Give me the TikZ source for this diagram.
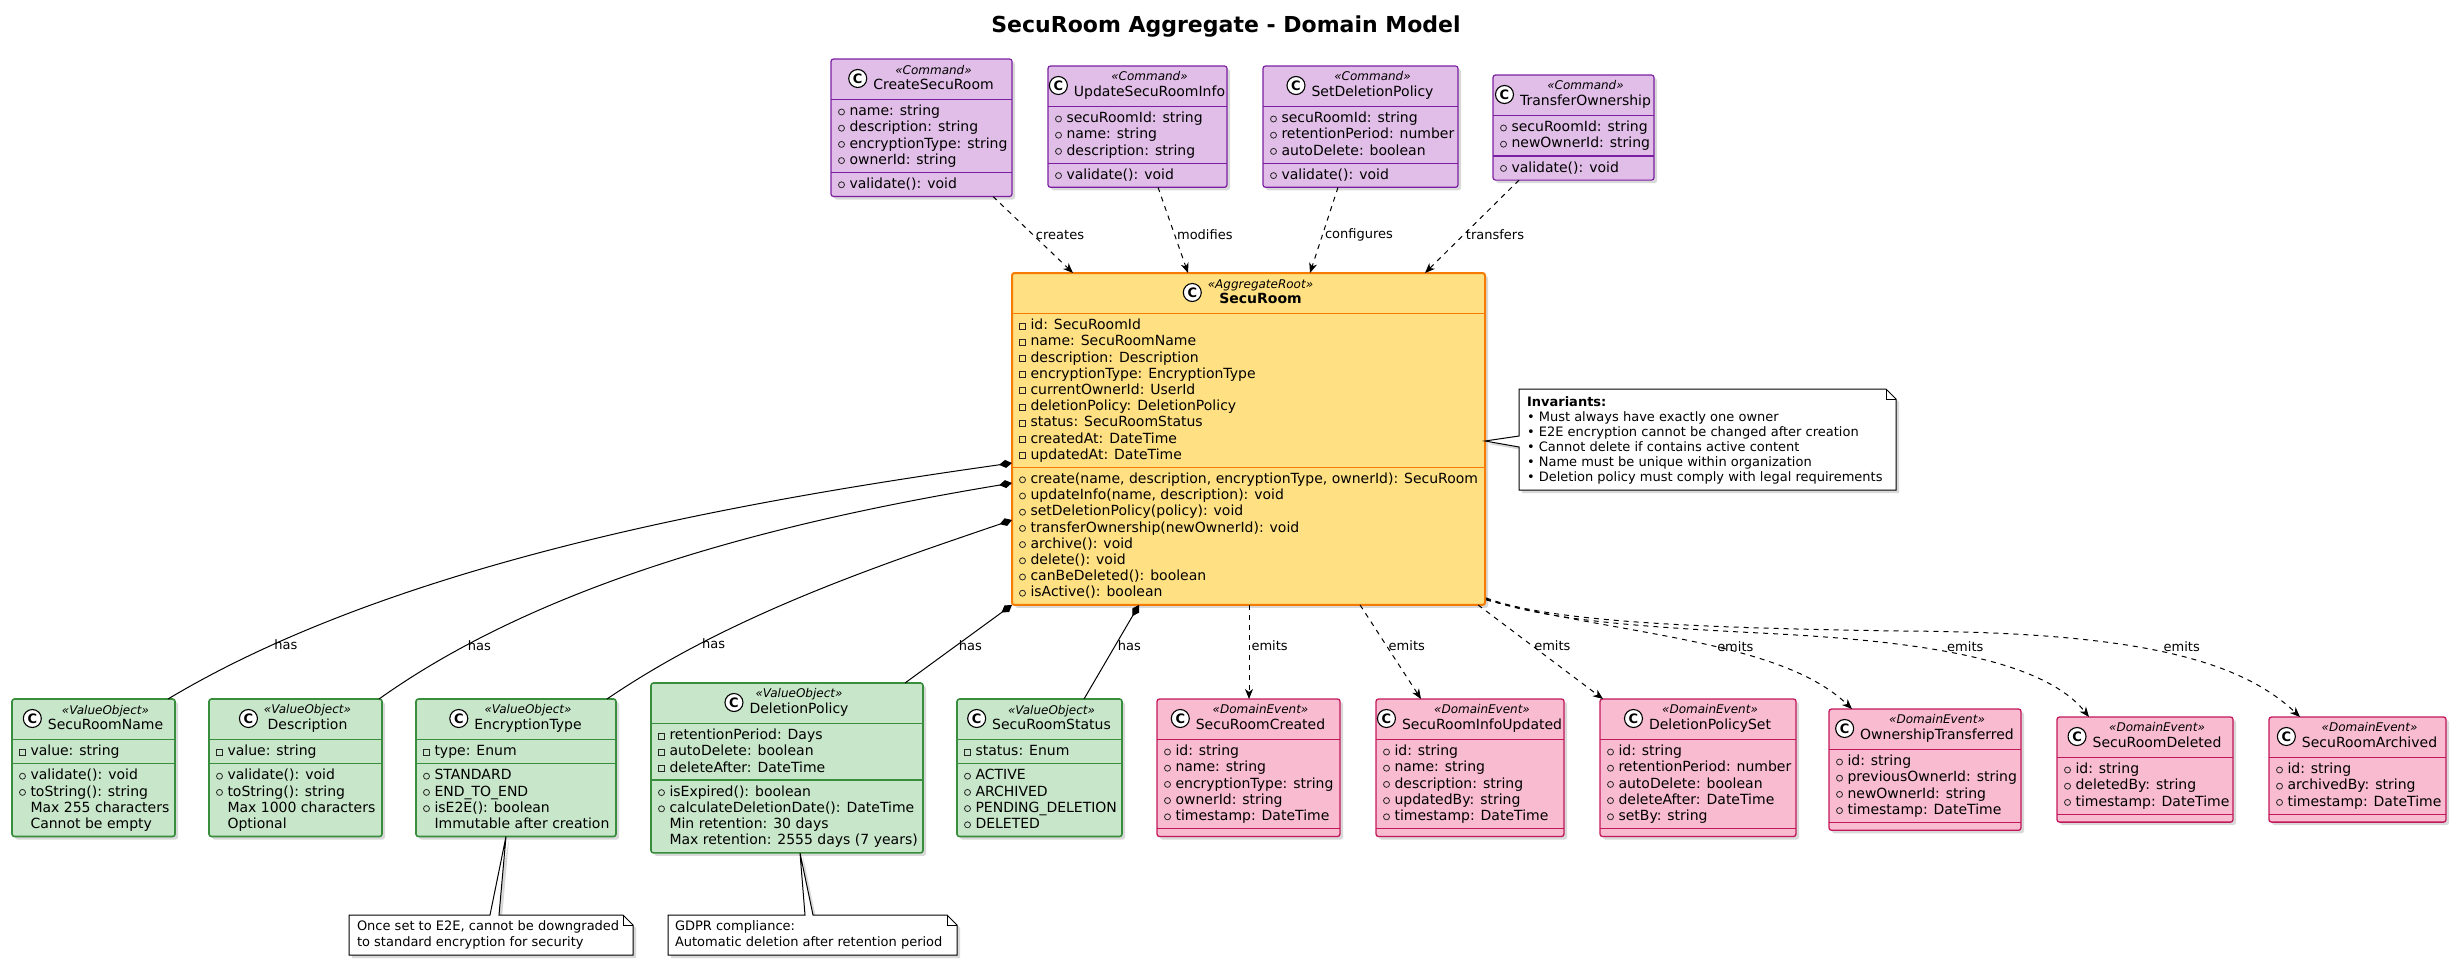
\documentclass[tikz,border=0pt]{standalone}
\usepackage{fontspec}
\setmainfont{DejaVu Sans}
\usetikzlibrary{arrows.meta,calc,positioning,shadows}
\definecolor{cmdFill}{HTML}{E1BEE7}
\definecolor{cmdLine}{HTML}{7B1FA2}
\definecolor{aggFill}{HTML}{FFE082}
\definecolor{aggLine}{HTML}{F57C00}
\definecolor{voFill}{HTML}{C8E6C9}
\definecolor{voLine}{HTML}{388E3C}
\definecolor{evFill}{HTML}{F8BBD0}
\definecolor{evLine}{HTML}{C2185B}
\tikzset{
  boxshadow/.style={drop shadow={shadow xshift=3pt, shadow yshift=-3pt, opacity=0.3}},
  clsbox/.style={rectangle, rounded corners=2.5pt, inner sep=0pt, outer sep=0pt, boxshadow},
  cmd box/.style={clsbox, fill=cmdFill, draw=cmdLine, line width=1.2pt},
  cmd line/.style={draw=cmdLine, line width=1.2pt},
  agg box/.style={clsbox, fill=aggFill, draw=aggLine, line width=2pt},
  agg line/.style={draw=aggLine, line width=1.5pt},
  vo box/.style={clsbox, fill=voFill, draw=voLine, line width=1.6pt},
  vo line/.style={draw=voLine, line width=1.3pt},
  ev box/.style={clsbox, fill=evFill, draw=evLine, line width=1.3pt},
  ev line/.style={draw=evLine, line width=1.2pt},
  hdr/.style={inner sep=0pt, outer sep=0pt, font=\fontsize{14}{15}\selectfont},
  cbadge/.style={circle, draw=black, fill=white, line width=1.1pt, minimum size=18pt, inner sep=0pt, font=\fontsize{13}{13}\selectfont\bfseries},
  mem/.style={inner sep=0pt, outer sep=0pt, anchor=west, font=\fontsize{14}{16}\selectfont, text height=10.5pt, text depth=3pt},
  icon/.style={draw=black!85, line width=0.8pt},
  notefont/.style={inner sep=0pt, outer sep=0pt, anchor=west, font=\fontsize{13}{15}\selectfont, text height=9.75pt, text depth=2.75pt},
  noteshape/.style={draw=black, fill=white, line width=1pt, boxshadow},
  noteline/.style={draw=black, line width=1pt},
  notebox/.style={rectangle, inner sep=0pt, outer sep=0pt, anchor=north west},
  dep/.style={draw=black, line width=1pt, dash pattern=on 5pt off 5pt, -{Stealth[length=10pt,width=8pt,inset=3pt]}},
  comp/.style={draw=black, line width=1pt, {Diamond[length=13pt,width=8pt]}-},
  lbl/.style={font=\fontsize{13}{15}\selectfont, inner sep=2pt, anchor=west},
}
\newcommand\umlclass[9]{%
  \pgfmathsetmacro\clsHd{#4+40.5}%
  \pgfmathsetmacro\clsAd{\clsHd+16.2*#6+8}%
  \pgfmathsetmacro\clsBt{\clsAd+16.2*#7+8}%
  \pgfmathsetlengthmacro\clsW{(#5-#3)*1pt}%
  \pgfmathsetlengthmacro\clsH{(\clsBt-#4)*1pt}%
  \pgfmathsetmacro\clsCx{(#3+#5)/2+12}%
  \node[#2 box, minimum width=\clsW, minimum height=\clsH, anchor=north west] (#1) at (#3,#4) {};
  \draw[#2 line] (#3,\clsHd) -- (#5,\clsHd);
  \draw[#2 line] (#3,\clsAd) -- (#5,\clsAd);
  \node[hdr] (#1-h) at (\clsCx,#4+19.5) {\begin{tabular}{@{}c@{}}{\fontsize{12}{14}\selectfont\itshape «#8»}\\#9\end{tabular}};
  \node[cbadge, left=6pt of #1-h] (#1-c) {C};
}
\newcommand\umlmembers[4]{%
  \foreach \vis/\txt [count=\mi from 0] in {#4} {%
    \pgfmathsetmacro\memY{#3+12.5+16.2*\mi}%
    \if\vis o\draw[icon] (#2+10.5,\memY) circle (3pt);\fi
    \if\vis p\draw[icon] (#2+7.5,\memY-3) rectangle (#2+13.5,\memY+3);\fi
    \node[mem] (#1-\mi) at (#2+18.5,\memY) {\txt};
  }%
}
\begin{document}
\begin{tikzpicture}[x=1pt,y=-1pt]
\useasboundingbox (0,0) rectangle (2456,961);
\node[font=\fontsize{22}{26}\selectfont\bfseries] (title) at (1226,27) {SecuRoom Aggregate - Domain Model};

% ---------- Commands ----------
\umlclass{cmdCreate}{cmd}{831}{59}{1012}{4}{1}{Command}{CreateSecuRoom}
\umlmembers{cmdCreate-a}{831}{\clsHd}{o/name: string, o/description: string, o/encryptionType: string, o/ownerId: string}
\umlmembers{cmdCreate-m}{831}{\clsAd}{o/validate(): void}

\umlclass{cmdUpdate}{cmd}{1048}{66}{1227}{3}{1}{Command}{UpdateSecuRoomInfo}
\umlmembers{cmdUpdate-a}{1048}{\clsHd}{o/secuRoomId: string, o/name: string, o/description: string}
\umlmembers{cmdUpdate-m}{1048}{\clsAd}{o/validate(): void}

\umlclass{cmdPolicy}{cmd}{1263}{66}{1458}{3}{1}{Command}{SetDeletionPolicy}
\umlmembers{cmdPolicy-a}{1263}{\clsHd}{o/secuRoomId: string, o/retentionPeriod: number, o/autoDelete: boolean}
\umlmembers{cmdPolicy-m}{1263}{\clsAd}{o/validate(): void}

\umlclass{cmdTransfer}{cmd}{1493}{75}{1654}{2}{1}{Command}{TransferOwnership}
\umlmembers{cmdTransfer-a}{1493}{\clsHd}{o/secuRoomId: string, o/newOwnerId: string}
\umlmembers{cmdTransfer-m}{1493}{\clsAd}{o/validate(): void}

% ---------- Aggregate root ----------
\umlclass{secuRoom}{agg}{1012}{273}{1485}{9}{8}{AggregateRoot}{{\bfseries SecuRoom}}
\umlmembers{secuRoom-a}{1012}{\clsHd}{p/id: SecuRoomId, p/name: SecuRoomName, p/description: Description, p/encryptionType: EncryptionType, p/currentOwnerId: UserId, p/deletionPolicy: DeletionPolicy, p/status: SecuRoomStatus, p/createdAt: DateTime, p/updatedAt: DateTime}
\umlmembers{secuRoom-m}{1012}{\clsAd}{o/{create(name, description, encryptionType, ownerId): SecuRoom}, o/{updateInfo(name, description): void}, o/setDeletionPolicy(policy): void, o/transferOwnership(newOwnerId): void, o/archive(): void, o/delete(): void, o/canBeDeleted(): boolean, o/isActive(): boolean}

% ---------- Value objects ----------
\umlclass{voName}{vo}{12}{699}{175}{1}{4}{ValueObject}{SecuRoomName}
\umlmembers{voName-a}{12}{\clsHd}{p/value: string}
\umlmembers{voName-m}{12}{\clsAd}{o/validate(): void, o/toString(): string, n/Max 255 characters, n/Cannot be empty}

\umlclass{voDesc}{vo}{209}{699}{382}{1}{4}{ValueObject}{Description}
\umlmembers{voDesc-a}{209}{\clsHd}{p/value: string}
\umlmembers{voDesc-m}{209}{\clsAd}{o/validate(): void, o/toString(): string, n/Max 1000 characters, n/Optional}

\umlclass{voEnc}{vo}{416}{699}{616}{1}{4}{ValueObject}{EncryptionType}
\umlmembers{voEnc-a}{416}{\clsHd}{p/type: Enum}
\umlmembers{voEnc-m}{416}{\clsAd}{o/STANDARD, o/END\_TO\_END, o/isE2E(): boolean, n/Immutable after creation}

\umlclass{voPolicy}{vo}{651}{683}{923}{3}{4}{ValueObject}{DeletionPolicy}
\umlmembers{voPolicy-a}{651}{\clsHd}{p/retentionPeriod: Days, p/autoDelete: boolean, p/deleteAfter: DateTime}
\umlmembers{voPolicy-m}{651}{\clsAd}{o/isExpired(): boolean, o/calculateDeletionDate(): DateTime, n/Min retention: 30 days, n/Max retention: 2555 days (7 years)}

\umlclass{voStatus}{vo}{957}{699}{1122}{1}{4}{ValueObject}{SecuRoomStatus}
\umlmembers{voStatus-a}{957}{\clsHd}{p/status: Enum}
\umlmembers{voStatus-m}{957}{\clsAd}{o/ACTIVE, o/ARCHIVED, o/PENDING\_DELETION, o/DELETED}

% ---------- Domain events ----------
\umlclass{evCreated}{ev}{1157}{699}{1340}{5}{0}{DomainEvent}{SecuRoomCreated}
\umlmembers{evCreated-a}{1157}{\clsHd}{o/id: string, o/name: string, o/encryptionType: string, o/ownerId: string, o/timestamp: DateTime}

\umlclass{evInfo}{ev}{1376}{699}{1564}{5}{0}{DomainEvent}{SecuRoomInfoUpdated}
\umlmembers{evInfo-a}{1376}{\clsHd}{o/id: string, o/name: string, o/description: string, o/updatedBy: string, o/timestamp: DateTime}

\umlclass{evPolicy}{ev}{1600}{699}{1796}{5}{0}{DomainEvent}{DeletionPolicySet}
\umlmembers{evPolicy-a}{1600}{\clsHd}{o/id: string, o/retentionPeriod: number, o/autoDelete: boolean, o/deleteAfter: DateTime, o/setBy: string}

\umlclass{evOwner}{ev}{1829}{709}{2021}{4}{0}{DomainEvent}{OwnershipTransferred}
\umlmembers{evOwner-a}{1829}{\clsHd}{o/id: string, o/previousOwnerId: string, o/newOwnerId: string, o/timestamp: DateTime}

\umlclass{evDeleted}{ev}{2057}{717}{2233}{3}{0}{DomainEvent}{SecuRoomDeleted}
\umlmembers{evDeleted-a}{2057}{\clsHd}{o/id: string, o/deletedBy: string, o/timestamp: DateTime}

\umlclass{evArchived}{ev}{2269}{717}{2446}{3}{0}{DomainEvent}{SecuRoomArchived}
\umlmembers{evArchived-a}{2269}{\clsHd}{o/id: string, o/archivedBy: string, o/timestamp: DateTime}

% ---------- Notes ----------
\node[notebox, minimum width=377pt, minimum height=101pt] (noteInv) at (1519,389) {};
\path[noteshape] (noteInv.north west) -- ($(noteInv.north east)+(-10,0)$) -- ($(noteInv.north east)+(0,10)$) -- (noteInv.south east) -- (noteInv.south west) -- ($(noteInv.north west)+(0,58)$) -- ($(secuRoom.north east)+(0,168)$) -- ($(noteInv.north west)+(0,47)$) -- cycle;
\draw[noteline] ($(noteInv.north east)+(-10,0)$) -- ($(noteInv.north east)+(-10,10)$) -- ($(noteInv.north east)+(0,10)$);
\foreach \txt [count=\mi from 0] in {{\bfseries Invariants:}, • Must always have exactly one owner, • E2E encryption cannot be changed after creation, • Cannot delete if contains active content, • Name must be unique within organization, • Deletion policy must comply with legal requirements}
  {\node[notefont] (noteInv-\mi) at (1527,403+15*\mi) {\txt};}

\node[notebox, minimum width=284pt, minimum height=40pt] (noteEnc) at (349,915) {};
\path[noteshape] (noteEnc.north west) -- ($(noteEnc.north west)+(141,0)$) -- ($(voEnc.south west)+(90,0)$) -- ($(noteEnc.north west)+(150,0)$) -- ($(noteEnc.north east)+(-10,0)$) -- ($(noteEnc.north east)+(0,10)$) -- (noteEnc.south east) -- (noteEnc.south west) -- cycle;
\draw[noteline] ($(noteEnc.north east)+(-10,0)$) -- ($(noteEnc.north east)+(-10,10)$) -- ($(noteEnc.north east)+(0,10)$);
\foreach \txt [count=\mi from 0] in {{Once set to E2E, cannot be downgraded}, to standard encryption for security}
  {\node[notefont] (noteEnc-\mi) at (357,927+15.5*\mi) {\txt};}

\node[notebox, minimum width=289pt, minimum height=40pt] (notePol) at (668,915) {};
\path[noteshape] (notePol.north west) -- ($(notePol.north west)+(137,0)$) -- ($(voPolicy.south west)+(149,0)$) -- ($(notePol.north west)+(145,0)$) -- ($(notePol.north east)+(-10,0)$) -- ($(notePol.north east)+(0,10)$) -- (notePol.south east) -- (notePol.south west) -- cycle;
\draw[noteline] ($(notePol.north east)+(-10,0)$) -- ($(notePol.north east)+(-10,10)$) -- ($(notePol.north east)+(0,10)$);
\foreach \txt [count=\mi from 0] in {GDPR compliance:, Automatic deletion after retention period}
  {\node[notefont] (notePol-\mi) at (675,927+15.5*\mi) {\txt};}

% ---------- Command connectors ----------
\draw[dep] ($(cmdCreate.south west)+(162,0)$) -- node[lbl,pos=0.506] (lCreates) {creates} ($(secuRoom.north west)+(61,0)$);
\draw[dep] ($(cmdUpdate.south west)+(110,0)$) -- node[lbl,pos=0.553] (lModifies) {modifies} ($(secuRoom.north west)+(176,0)$);
\draw[dep] ($(cmdPolicy.south west)+(75,0)$) -- node[lbl,pos=0.553] (lConfigures) {configures} ($(secuRoom.north west)+(298,0)$);
\draw[dep] ($(cmdTransfer.south west)+(26,0)$) -- node[lbl,pos=0.591] (lTransfers) {transfers} ($(secuRoom.north west)+(413,0)$);

% ---------- Composition connectors ----------
\draw[comp] ($(secuRoom.north west)+(0,190)$) .. controls (750,500) and (400,560) .. node[lbl,pos=0.86] (lHas1) {has} ($(voName.north west)+(156,0)$);
\draw[comp] ($(secuRoom.north west)+(0,210)$) .. controls (820,515) and (560,570) .. node[lbl,pos=0.85] (lHas2) {has} ($(voDesc.north west)+(170,0)$);
\draw[comp] ($(secuRoom.north west)+(0,247)$) .. controls (880,565) and (730,615) .. node[lbl,pos=0.76] (lHas3) {has} ($(voEnc.north west)+(191,0)$);
\draw[comp] (secuRoom.south west) -- node[lbl,pos=0.52] (lHas4) {has} ($(voPolicy.north west)+(254,0)$);
\draw[comp] ($(secuRoom.south west)+(127,0)$) -- node[lbl,pos=0.43] (lHas5) {has} ($(voStatus.north west)+(127,0)$);

% ---------- Event connectors ----------
\coordinate (bendA) at (1760,633);
\coordinate (bendB) at (1900,631);
\draw[dep] ($(secuRoom.south west)+(237,0)$) -- node[lbl,pos=0.43] (lEmit1) {emits} ($(evCreated.north west)+(92,0)$);
\draw[dep] ($(secuRoom.south west)+(348,0)$) -- node[lbl,pos=0.43] (lEmit2) {emits} ($(evInfo.north west)+(45,0)$);
\draw[dep] ($(secuRoom.south west)+(466,0)$) -- node[lbl,pos=0.43] (lEmit3) {emits} ($(evPolicy.north west)+(3,0)$);
\draw[dep] ($(secuRoom.south east)+(1,-5)$) .. controls (1620,635) and (1780,640) .. node[lbl,pos=0.55,xshift=3pt] (lEmit4) {emits} ($(evOwner.north west)+(23,0)$);
\draw[dep] ($(secuRoom.south east)+(1,-6)$) .. controls (1540,618) and (1620,626) .. (bendA) .. controls (1900,640) and (2040,655) .. node[lbl,pos=0.45,xshift=4pt,yshift=4pt] (lEmit5) {emits} ($(evDeleted.north west)+(32,0)$);
\draw[dep] ($(secuRoom.south east)+(1,-7)$) .. controls (1550,622) and (1700,628) .. (bendB) .. controls (2120,632) and (2235,655) .. node[lbl,pos=0.5,xshift=3pt,yshift=4pt] (lEmit6) {emits} ($(evArchived.north west)+(31,0)$);
\end{tikzpicture}
\end{document}
